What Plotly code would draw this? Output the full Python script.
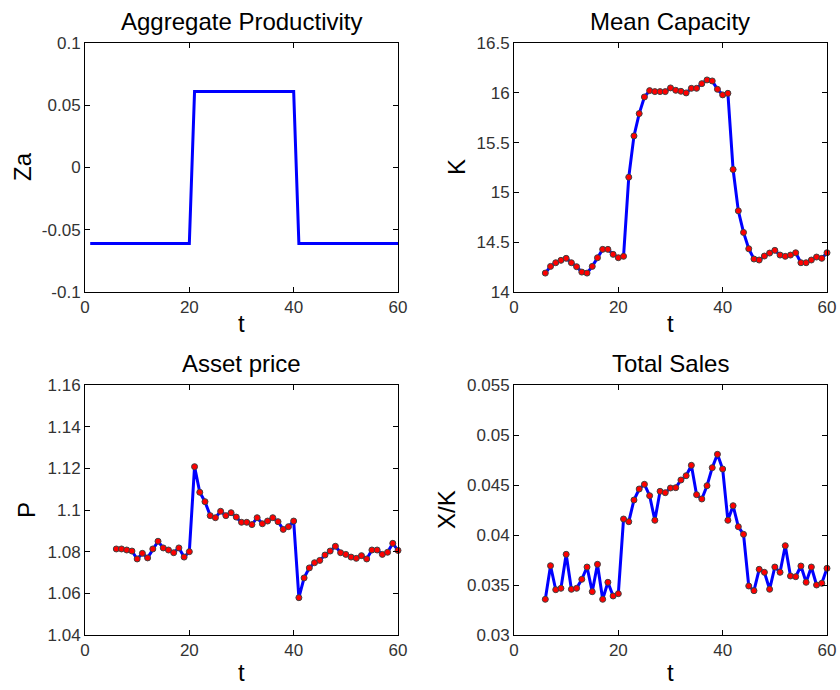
import plotly.graph_objects as go

# Time index for the simulated paths
t_za = list(range(1, 61))
t_sim = list(range(6, 61))

# Aggregate productivity: low state, high state for t = 21..40, then low again
za_low, za_high = -0.061, 0.061
za = [za_low] * 20 + [za_high] * 20 + [za_low] * 20

# Mean capacity K
capacity = [14.19, 14.257, 14.294, 14.318, 14.338, 14.294, 14.254, 14.20, 14.19, 14.257,
            14.344, 14.428, 14.428, 14.378, 14.344, 14.358, 15.153, 15.567, 15.791, 15.958,
            16.022, 16.012, 16.012, 16.012, 16.049, 16.025, 16.015, 15.999, 16.045, 16.045,
            16.092, 16.129, 16.119, 16.035, 15.979, 15.995, 15.23, 14.815, 14.598, 14.434,
            14.331, 14.321, 14.361, 14.391, 14.418, 14.371, 14.358, 14.371, 14.394, 14.294,
            14.294, 14.321, 14.351, 14.338, 14.394]

# Asset price P
price = [1.0813, 1.0813, 1.0808, 1.0803, 1.0765, 1.0792, 1.0770, 1.0813, 1.0850, 1.0818,
         1.0808, 1.0795, 1.0818, 1.0774, 1.0800, 1.1208, 1.1085, 1.1040, 1.0973, 1.0963,
         1.0994, 1.0973, 1.0987, 1.0966, 1.0941, 1.0941, 1.0930, 1.0963, 1.0934, 1.0947,
         1.0963, 1.0944, 1.0907, 1.0920, 1.0947, 1.0579, 1.0674, 1.0722, 1.0747, 1.0758,
         1.0784, 1.0803, 1.0826, 1.0795, 1.0787, 1.0774, 1.0768, 1.0781, 1.0765, 1.0808,
         1.0808, 1.0787, 1.0797, 1.0840, 1.0806]

# Total sales X/K
sales = [0.03357, 0.03693, 0.03453, 0.03467, 0.03807, 0.03457, 0.03467, 0.03557, 0.03680, 0.03433,
         0.03707, 0.03357, 0.03527, 0.03390, 0.03413, 0.04160, 0.04133, 0.04350, 0.04460, 0.04507,
         0.04393, 0.04147, 0.04437, 0.04423, 0.04470, 0.04473, 0.04550, 0.04593, 0.04697, 0.04403,
         0.04360, 0.04493, 0.04673, 0.04807, 0.04660, 0.04147, 0.04293, 0.04083, 0.04007, 0.03490,
         0.03443, 0.03657, 0.03627, 0.03457, 0.03680, 0.03627, 0.03893, 0.03590, 0.03583, 0.03690,
         0.03527, 0.03680, 0.03500, 0.03517, 0.03667]

# Axis tick values and labels
x_ticks = [0, 20, 40, 60]
za_ticks = [-0.1, -0.05, 0, 0.05, 0.1]
za_labels = ["-0.1", "-0.05", "0", "0.05", "0.1"]
k_ticks = [14, 14.5, 15, 15.5, 16, 16.5]
k_labels = ["14", "14.5", "15", "15.5", "16", "16.5"]
p_ticks = [1.04, 1.06, 1.08, 1.10, 1.12, 1.14, 1.16]
p_labels = ["1.04", "1.06", "1.08", "1.1", "1.12", "1.14", "1.16"]
s_ticks = [0.03, 0.035, 0.04, 0.045, 0.05, 0.055]
s_labels = ["0.03", "0.035", "0.04", "0.045", "0.05", "0.055"]

W, H = 840, 690
BLUE = "#0000ff"
FONT = "Liberation Sans, Arial, sans-serif"
TICK_COLOR = "#333333"

fig = go.Figure()

line_style = dict(color=BLUE, width=3)
marker_style = dict(color="#ff0000", size=6, line=dict(color="#404040", width=1))

fig.add_trace(go.Scatter(x=t_za, y=za, mode="lines", line=line_style, cliponaxis=False,
                         xaxis="x", yaxis="y", showlegend=False))
fig.add_trace(go.Scatter(x=t_sim, y=capacity, mode="lines+markers", line=line_style,
                         marker=marker_style, cliponaxis=False,
                         xaxis="x2", yaxis="y2", showlegend=False))
fig.add_trace(go.Scatter(x=t_sim, y=price, mode="lines+markers", line=line_style,
                         marker=marker_style, cliponaxis=False,
                         xaxis="x3", yaxis="y3", showlegend=False))
fig.add_trace(go.Scatter(x=t_sim, y=sales, mode="lines+markers", line=line_style,
                         marker=marker_style, cliponaxis=False,
                         xaxis="x4", yaxis="y4", showlegend=False))


def px_x(p):
    return p / W


def px_y(p):
    return 1 - p / H


col_dom = [[px_x(85), px_x(398)], [px_x(514), px_x(827)]]
row_dom = [[px_y(292), px_y(43)], [px_y(635), px_y(385)]]

common = dict(showline=True, linecolor="black", linewidth=1, mirror="ticks",
              ticks="inside", ticklen=5, tickcolor="black", showgrid=False,
              zeroline=False, automargin=False,
              tickfont=dict(family=FONT, size=17, color=TICK_COLOR))

panels = [
    ("x", "y", 0, 0, za_ticks, za_labels, [-0.1, 0.1]),
    ("x2", "y2", 1, 0, k_ticks, k_labels, [14, 16.5]),
    ("x3", "y3", 0, 1, p_ticks, p_labels, [1.04, 1.16]),
    ("x4", "y4", 1, 1, s_ticks, s_labels, [0.03, 0.055]),
]

layout_axes = {}
for xa, ya, c, r, yt, yl, yr in panels:
    xkey = "xaxis" + xa[1:]
    ykey = "yaxis" + ya[1:]
    layout_axes[xkey] = dict(common, domain=col_dom[c], anchor=ya, range=[0, 60],
                             tickvals=x_ticks, ticktext=[str(v) for v in x_ticks])
    layout_axes[ykey] = dict(common, domain=row_dom[r], anchor=xa, range=yr,
                             tickvals=yt, ticktext=yl)

fig.update_layout(**layout_axes)

# Panel titles and axis labels (pixel positions)
titles = [("Aggregate Productivity", 242, 21), ("Mean Capacity", 670, 21),
          ("Asset price", 242, 363), ("Total Sales", 670, 363)]
ylabels = [("Za", 22, 167), ("K", 456, 167), ("P", 27, 510), ("X/K", 447, 510)]
xlabels = [("t", 242, 324), ("t", 670, 324), ("t", 242, 672), ("t", 670, 672)]

annotations = []
for text, x, y in titles:
    annotations.append(dict(text=text, x=px_x(x), y=px_y(y), xref="paper", yref="paper",
                            showarrow=False, xanchor="center", yanchor="middle",
                            font=dict(family=FONT, size=24, color="black")))
for text, x, y in ylabels:
    annotations.append(dict(text=text, x=px_x(x), y=px_y(y), xref="paper", yref="paper",
                            showarrow=False, xanchor="center", yanchor="middle", textangle=-90,
                            font=dict(family=FONT, size=24, color="black")))
for text, x, y in xlabels:
    annotations.append(dict(text=text, x=px_x(x), y=px_y(y), xref="paper", yref="paper",
                            showarrow=False, xanchor="center", yanchor="middle",
                            font=dict(family=FONT, size=24, color="black")))

fig.update_layout(width=W, height=H, margin=dict(l=0, r=0, t=0, b=0),
                  paper_bgcolor="white", plot_bgcolor="white",
                  annotations=annotations, font=dict(family=FONT))

fig.write_html("out.html")
